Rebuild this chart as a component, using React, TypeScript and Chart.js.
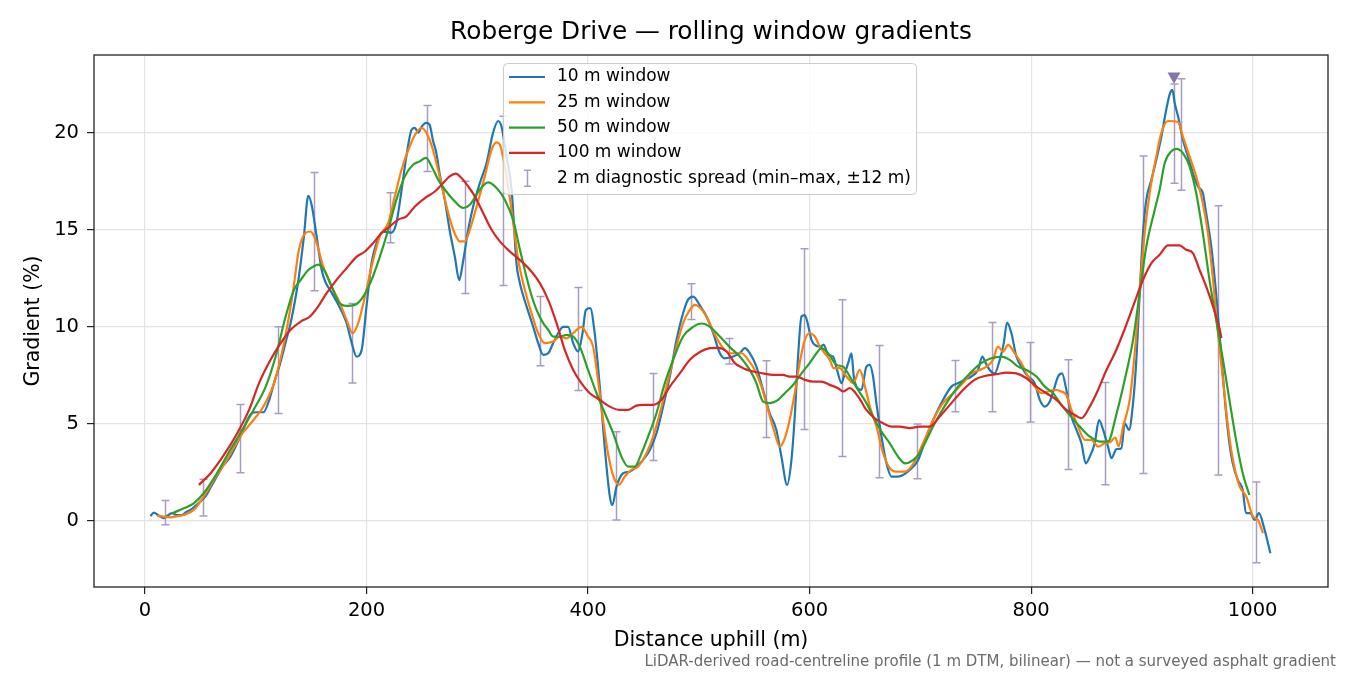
import { useEffect, useRef } from "react";
import { Chart, registerables } from "chart.js";

Chart.register(...registerables);

// distance uphill (m), gradient (%)
const win10: [number, number][] = [
    [5, 0.25], [8, 0.43], [12, 0.3], [17, 0.15], [21, 0.3], [24.6, 0.4], [29, 0.3], [33, 0.3],
    [37, 0.45], [41, 0.57], [46, 0.8], [50, 1.0], [55, 1.3], [60, 1.8], [65, 2.3], [70, 2.8],
    [77, 3.3], [86, 4.35], [95, 5.46], [100, 5.6], [107, 5.6], [112, 6.2], [116.5, 7.1], [122, 8.1],
    [127, 9.2], [131.5, 10.2], [135, 11.2], [139, 12.6], [143.5, 14.66], [147.4, 16.75], [150.4, 16.3],
    [155, 14.66], [159.5, 12.94], [163, 12.3], [167, 11.9], [174, 11.2], [182, 10.2], [186.5, 9.2],
    [191, 8.47], [195.6, 8.8], [200, 11.05], [204.6, 13.3], [209, 14.3], [215, 14.9], [222.6, 14.85],
    [227, 15.36], [231.7, 17.06], [236, 18.78], [240.7, 20.15], [243.7, 20.25], [246.7, 20.0],
    [249.7, 20.3], [254, 20.5], [257, 20.4], [260, 19.6], [263, 18.97], [266, 17.9], [270.8, 16.5],
    [275, 15.0], [279.8, 13.6], [283.7, 12.4], [287, 13.3], [291.8, 15.0], [296.3, 16.2], [302.3, 17.4],
    [308.4, 18.44], [314.3, 20.0], [318.8, 20.6], [321.9, 20.3], [326.4, 18.78], [331, 17.06],
    [335.5, 13.2], [338.4, 12.27], [340, 11.9], [344.5, 11.05], [350.5, 10.0], [355, 9.16], [359.5, 8.56],
    [364, 8.64], [368.5, 9.16], [373, 9.67], [377.5, 10.0], [382, 10.0], [386.6, 9.16], [391, 8.73],
    [395, 9.67], [398, 10.87], [402, 10.96], [406, 9.67], [410.6, 6.92], [415, 3.83], [419.7, 1.25],
    [422, 0.82], [425.7, 1.77], [431.7, 2.46], [437.7, 2.54], [443.7, 2.8], [449.7, 3.14], [455.8, 3.66],
    [461.8, 4.52], [467.8, 5.9], [473.8, 7.44], [479.9, 9.33], [485.8, 10.7], [490.3, 11.4], [494.9, 11.56],
    [501, 11.1], [507, 10.53], [513, 9.67], [519, 8.64], [523.5, 8.38], [531, 8.47], [537, 8.64],
    [541.5, 8.9], [546, 8.64], [552, 7.95], [558, 6.75], [564, 5.55], [570, 4.69], [574.6, 3.31],
    [579.7, 1.86], [583.6, 3.14], [586.6, 5.38], [589.6, 8.47], [592.7, 10.53], [595.7, 10.6], [598.6, 10.1],
    [601.7, 9.33], [604.7, 9.07], [609.2, 8.98], [612.8, 9.07], [616.7, 8.56], [621.2, 8.47], [624.8, 7.78],
    [628.8, 7.1], [631.8, 7.6], [634.8, 8.13], [637.8, 8.64], [639.9, 7.44], [642.3, 6.92], [646.8, 6.75],
    [651.3, 7.95], [654.4, 8.04], [657.3, 7.44], [660.3, 6.07], [664.9, 4.35], [669.4, 2.97], [673.9, 2.28],
    [681.4, 2.3], [690.4, 2.63], [698, 3.14], [705.5, 4.35], [713, 5.38], [720.5, 6.24], [728, 6.92],
    [734, 7.1], [740, 7.27], [746, 7.44], [752, 7.78], [756, 8.47], [759, 8.13], [762.6, 7.78], [767, 7.6],
    [771.7, 8.3], [775.3, 9.16], [778.3, 10.22], [782.2, 9.67], [786.7, 8.47], [791.2, 7.95], [797.2, 7.44],
    [803.2, 7.1], [807.8, 6.24], [812.3, 5.89], [816.8, 6.15], [821.3, 6.92], [824.3, 7.44], [827.9, 7.6],
    [831.8, 6.75], [836.4, 5.38], [840.9, 4.69], [845.4, 4.0], [849.3, 2.97], [852.9, 3.31], [857.4, 4.0],
    [861.3, 5.2], [865, 4.69], [869.4, 3.83], [872.5, 3.23], [877, 3.7], [881.5, 3.75], [884.5, 5.03],
    [888.4, 4.69], [892, 6.07], [895, 8.3], [898, 11.73], [901, 14.83], [904, 16.55], [908.6, 17.58],
    [913, 18.6], [917.6, 19.8], [922, 21.19], [925, 21.96], [927.5, 22.2], [929.6, 21.53], [932.6, 20.84],
    [937, 19.64], [941.6, 18.78], [946, 17.92], [950.6, 17.23], [955, 16.89], [958, 15.86], [962.6, 14.14],
    [967, 11.73], [971.5, 8.64], [976, 5.55], [979, 4.0], [982, 2.97], [986.7, 2.11], [991, 1.6],
    [994, 0.4], [997.9, 0.4], [1001.8, 0.05], [1005.7, 0.4], [1010, -0.29], [1016, -1.66],
];

const win25: [number, number][] = [
    [11, 0.26], [17, 0.22], [23, 0.19], [29, 0.25], [35, 0.31], [44, 0.57], [53, 1.25], [62, 2.1],
    [74, 3.14], [86, 4.35], [98, 5.2], [107, 5.9], [116.5, 7.1], [125.5, 9.16], [133, 11.56], [139, 13.97],
    [145, 14.83], [149.5, 14.91], [152, 14.74], [155, 14.31], [161, 13.1], [168.5, 12.08], [176, 11.22],
    [182, 10.36], [187.5, 9.67], [192.5, 10.19], [198.6, 11.56], [204.6, 13.1], [212, 14.66], [219.6, 15.35],
    [225.6, 16.72], [231.7, 18.1], [239, 19.3], [245, 20.0], [249.7, 20.24], [254, 20.0], [260, 19.12],
    [266, 17.75], [272.3, 16.2], [278.3, 15.0], [284.3, 14.4], [288.8, 14.4], [293.3, 15.0], [299.4, 16.2],
    [306.8, 17.75], [312.9, 19.12], [317.4, 19.5], [320.4, 19.38], [324.9, 18.26], [331, 16.0], [337, 13.45],
    [343, 11.9], [349, 10.7], [355, 9.67], [361, 9.16], [368.5, 9.24], [374.5, 9.5], [380.6, 9.41],
    [386.6, 9.67], [394, 10.0], [400, 9.5], [404.6, 8.98], [409, 7.27], [413.6, 5.2], [418, 3.49],
    [423, 2.28], [428, 1.86], [433, 2.28], [439, 2.63], [445, 2.8], [452.8, 3.49], [458.8, 4.35],
    [464.8, 5.55], [470.8, 6.92], [478.3, 8.64], [485.8, 10.19], [491.9, 10.87], [496.4, 11.13],
    [502.4, 10.9], [508.4, 10.36], [514.4, 9.6], [522, 8.9], [529.5, 8.64], [538.5, 8.64], [544.5, 8.3],
    [550.5, 7.78], [556.6, 6.92], [562.5, 5.72], [568.6, 4.52], [573, 3.83], [577.6, 4.26], [582, 5.2],
    [586.6, 6.58], [591, 8.13], [595.7, 9.33], [600, 9.67], [604.7, 9.5], [609.2, 8.98], [613.7, 8.64],
    [618.2, 8.3], [621.8, 7.87], [627.2, 7.87], [633.3, 7.44], [639.3, 7.1], [645.3, 7.78], [650, 6.92],
    [654.4, 5.89], [660.4, 4.86], [666.4, 3.49], [672.4, 2.72], [678.4, 2.54], [686, 2.54], [693.4, 2.93],
    [702.4, 4.0], [711.5, 5.2], [720.5, 6.07], [729.5, 6.58], [738.5, 7.1], [746, 7.6], [753.6, 7.78],
    [759.7, 7.95], [765.6, 8.3], [770, 8.98], [774.6, 8.73], [779.2, 9.07], [785.2, 8.64], [791.2, 8.13],
    [797.2, 7.44], [803.2, 6.92], [809.3, 6.58], [815.3, 6.67], [821.3, 6.75], [827.3, 6.67], [831.8, 6.49],
    [836.4, 5.72], [842.3, 4.86], [848.4, 4.18], [854.4, 4.18], [860.4, 3.83], [866.4, 4.0], [871, 4.05],
    [876, 4.3], [879, 3.85], [883, 4.86], [889, 6.24], [893.5, 8.64], [898, 11.9], [902.5, 14.83],
    [907, 16.89], [913, 18.78], [917.6, 20.0], [923.6, 20.6], [932.6, 20.55], [937, 19.8], [943, 18.78],
    [949, 17.75], [955, 16.37], [959.6, 14.83], [964.2, 12.42], [968.7, 9.67], [973.2, 7.27], [977.7, 4.86],
    [982.2, 3.14], [988.3, 1.77], [994.3, 1.25], [1000.3, 0.22], [1004.8, 0.05], [1009.3, -0.63],
];

const win50: [number, number][] = [
    [24.6, 0.4], [35, 0.65], [44, 0.91], [53, 1.43], [65, 2.46], [77, 3.66], [86, 4.52], [98, 5.72],
    [109, 6.92], [118, 8.47], [127, 10.53], [134.5, 11.9], [140.5, 12.4], [147, 12.9], [152, 13.1],
    [156.4, 13.2], [162.5, 12.85], [168.5, 12.08], [174.5, 11.3], [182, 11.08], [189.5, 11.13], [197, 11.56],
    [204.6, 12.42], [212, 13.6], [219.6, 15.0], [227, 16.55], [234.6, 17.75], [242, 18.35], [248, 18.52],
    [253.6, 18.7], [258.8, 18.26], [264.7, 17.58], [270.8, 17.06], [278.3, 16.55], [287.3, 16.12],
    [293.3, 16.29], [302.3, 17.06], [309.8, 17.44], [317.4, 17.15], [324.9, 16.55], [332.4, 15.5],
    [338.4, 14.0], [347.5, 11.9], [353.5, 10.87], [359.5, 10.19], [364, 9.85], [368.5, 9.5], [374.5, 9.5],
    [380.6, 9.59], [386.6, 9.5], [392.6, 8.98], [400, 7.78], [407.7, 6.58], [415.2, 5.55], [422.7, 4.52],
    [430.2, 3.31], [436.2, 2.8], [442.2, 2.8], [448.3, 3.49], [454.2, 4.35], [461.8, 5.55], [469.3, 7.1],
    [476.8, 8.3], [485.8, 9.5], [494.9, 10.0], [502.4, 10.17], [510, 10.0], [519, 9.5], [527.5, 8.98],
    [537, 8.47], [546, 7.78], [552, 7.1], [558, 6.15], [564, 6.07], [571.6, 6.24], [577.6, 6.58],
    [585.1, 7.0], [592.7, 7.6], [600, 8.13], [606.2, 8.64], [610.7, 8.9], [616.7, 8.64], [624.3, 8.04],
    [630.2, 7.95], [636.3, 7.44], [643.8, 6.75], [651.3, 6.07], [657.3, 5.38], [664.9, 4.6], [672.4, 4.0],
    [679.9, 3.31], [686, 2.97], [693.4, 3.14], [699.5, 3.5], [704, 4.0], [713, 5.03], [723.6, 6.07],
    [734, 6.92], [744.6, 7.6], [755, 8.13], [764, 8.38], [773.2, 8.47], [780.7, 8.3], [788.2, 7.95],
    [795.8, 7.78], [804.8, 7.44], [812.3, 6.92], [819.8, 6.58], [827.3, 5.98], [834.8, 5.46], [843.9, 4.86],
    [852.9, 4.35], [861.9, 4.09], [869.4, 4.1], [877, 5.5], [884.5, 7.27], [892, 9.33], [898, 11.73],
    [904, 14.14], [911.6, 16.03], [916, 17.06], [920.6, 18.44], [926.6, 19.04], [931, 19.16], [937, 18.95],
    [943, 18.26], [949, 16.89], [955, 14.83], [961, 12.42], [967, 10.36], [973.2, 8.3], [979, 6.24],
    [985, 4.18], [991, 2.46], [997, 1.34],
];

const win100: [number, number][] = [
    [48.7, 1.86], [59.3, 2.46], [71.3, 3.4], [83.3, 4.52], [94, 5.72], [103, 7.1], [113.4, 8.3],
    [122.5, 9.16], [131.5, 9.85], [140.5, 10.27], [149, 10.53], [156.4, 11.05], [164, 11.73], [173, 12.42],
    [182, 13.02], [191, 13.6], [198.6, 13.88], [206, 14.31], [213.6, 14.83], [221, 15.17], [228.6, 15.52],
    [236, 15.69], [243.7, 16.2], [252.7, 16.63], [261.7, 16.97], [269.2, 17.41], [275, 17.75], [280.7, 17.89],
    [285.8, 17.66], [291.8, 17.23], [297.8, 16.72], [305.3, 15.86], [312.9, 15.0], [320.4, 14.4],
    [329.4, 13.88], [338.4, 13.45], [347.5, 12.94], [356.5, 12.25], [364, 11.39], [371.6, 10.19], [379, 8.81],
    [386.6, 7.78], [394, 7.1], [401.6, 6.58], [410.6, 6.24], [419.7, 5.89], [428.7, 5.72], [436.2, 5.72],
    [443.7, 5.94], [451.3, 5.98], [458.8, 5.98], [466.3, 6.24], [473.8, 6.92], [482.8, 7.6], [491.9, 8.3],
    [501, 8.7], [510, 8.9], [517.4, 8.92], [525, 8.73], [532.5, 8.13], [540, 7.87], [549, 7.7], [558, 7.6],
    [567, 7.53], [576, 7.53], [582, 7.44], [588, 7.44], [595.7, 7.27], [603, 7.18], [610.7, 7.18],
    [618.2, 7.01], [625.7, 6.84], [630.2, 6.67], [636.3, 6.84], [643.8, 6.41], [651.3, 5.72], [658.8, 5.29],
    [666.4, 5.03], [673.9, 4.86], [681.4, 4.86], [690.4, 4.78], [699.5, 4.86], [708.5, 4.86], [717.5, 5.38],
    [728, 6.07], [738.5, 6.75], [749, 7.27], [759.7, 7.49], [768.7, 7.56], [777.7, 7.64], [786.7, 7.6],
    [795.8, 7.35], [804.8, 6.92], [813.8, 6.58], [822.8, 6.24], [831.8, 5.72], [839.4, 5.46], [845.4, 5.29],
    [852.9, 5.89], [860.4, 6.75], [868, 7.78], [875.5, 8.64], [883, 9.67], [892, 11.05], [901, 12.42],
    [908.6, 13.28], [916, 13.71], [923.6, 14.19], [934, 14.19], [940, 13.97], [946, 13.8], [952, 12.94],
    [958, 12.08], [964.2, 11.05], [970.3, 9.85], [971.8, 9.42],
];

// 2 m diagnostic spread, min–max within ±12 m
const spreadAt = [18, 52, 86, 120, 153, 187, 221, 255, 289, 323, 357, 391, 425, 459, 493, 527, 561, 595, 629, 663, 697, 731, 765, 799, 833, 867, 901, 929, 935, 969, 1003];
const spreadLow = [-0.2, 0.26, 2.49, 5.53, 11.86, 7.11, 14.33, 18.0, 11.72, 12.13, 8.0, 6.72, 0.05, 3.11, 10.38, 8.09, 4.3, 4.71, 3.32, 2.23, 2.18, 5.62, 5.62, 5.1, 2.65, 1.86, 2.44, 17.39, 17.03, 2.37, -2.15];
const spreadHigh = [1.05, 2.15, 6.0, 10.0, 17.95, 11.2, 16.9, 21.4, 17.5, 20.84, 11.56, 12.03, 4.59, 7.6, 12.22, 9.4, 8.25, 14.02, 11.39, 9.04, 5.0, 8.26, 10.22, 9.19, 8.3, 7.13, 18.8, 22.5, 22.78, 16.24, 2.01];

const peakMark: [number, number][] = [[929, 22.9]];

const xTicks = [0, 200, 400, 600, 800, 1000];
const yTicks = [0, 5, 10, 15, 20];

const seriesNames = ["10 m window", "25 m window", "50 m window", "100 m window"];
const seriesColors = ["#1f77b4", "#ff7f0e", "#2ca02c", "#d62728"];
const spreadName = "2 m diagnostic spread (min\u2013max, \u00b112 m)";
const spreadColor = "#a99cc4";

const FONT = "'DejaVu Sans', Verdana, sans-serif";

const toPoints = (arr: [number, number][]) => arr.map(([x, y]) => ({ x, y }));

const decorations = {
    id: "decorations",
    beforeDraw(chart: any) {
        const ctx = chart.ctx;
        ctx.save();
        ctx.fillStyle = "#ffffff";
        ctx.fillRect(0, 0, chart.width, chart.height);
        ctx.restore();
    },
    beforeDatasetsDraw(chart: any) {
        const ctx = chart.ctx;
        const xs = chart.scales.x;
        const ys = chart.scales.y;
        ctx.save();
        ctx.strokeStyle = spreadColor;
        ctx.lineWidth = 1.5;
        spreadAt.forEach((d, i) => {
            const px = Math.round(xs.getPixelForValue(d)) + 0.5;
            const top = ys.getPixelForValue(spreadHigh[i]);
            const bot = ys.getPixelForValue(spreadLow[i]);
            ctx.beginPath();
            ctx.moveTo(px, top);
            ctx.lineTo(px, bot);
            ctx.moveTo(px - 4, top);
            ctx.lineTo(px + 4, top);
            ctx.moveTo(px - 4, bot);
            ctx.lineTo(px + 4, bot);
            ctx.stroke();
        });
        ctx.restore();
    },
    afterDatasetsDraw(chart: any) {
        const ctx = chart.ctx;
        const a = chart.chartArea;
        ctx.save();

        // frame
        ctx.strokeStyle = "#222222";
        ctx.lineWidth = 1.3;
        ctx.strokeRect(a.left, a.top, a.right - a.left, a.bottom - a.top);

        // legend
        const lx = 503.5, ly = 63.5, lw = 413, lh = 131;
        ctx.beginPath();
        ctx.roundRect(lx, ly, lw, lh, 4);
        ctx.fillStyle = "rgba(255,255,255,0.8)";
        ctx.fill();
        ctx.strokeStyle = "#cccccc";
        ctx.lineWidth = 1;
        ctx.stroke();

        const rows = [77, 102.3, 127.6, 152.9, 178.2];
        ctx.font = `17px ${FONT}`;
        ctx.textBaseline = "middle";
        ctx.textAlign = "left";
        seriesNames.forEach((name, i) => {
            ctx.strokeStyle = seriesColors[i];
            ctx.lineWidth = 2.2;
            ctx.beginPath();
            ctx.moveTo(509, rows[i]);
            ctx.lineTo(545, rows[i]);
            ctx.stroke();
            ctx.fillStyle = "#000000";
            ctx.fillText(name, 557, rows[i]);
        });
        const ey = rows[4];
        ctx.strokeStyle = spreadColor;
        ctx.lineWidth = 1.5;
        ctx.beginPath();
        ctx.moveTo(527.5, ey - 8);
        ctx.lineTo(527.5, ey + 8);
        ctx.moveTo(524, ey - 8);
        ctx.lineTo(531, ey - 8);
        ctx.moveTo(524, ey + 8);
        ctx.lineTo(531, ey + 8);
        ctx.stroke();
        ctx.fillStyle = "#000000";
        ctx.fillText(spreadName, 557, ey);

        // title
        ctx.font = `24.8px ${FONT}`;
        ctx.textAlign = "center";
        ctx.fillText("Roberge Drive \u2014 rolling window gradients", (a.left + a.right) / 2, 33);

        // footer note
        ctx.font = `15px ${FONT}`;
        ctx.textAlign = "right";
        ctx.fillStyle = "#6b6b6b";
        ctx.fillText(
            "LiDAR-derived road-centreline profile (1 m DTM, bilinear) \u2014 not a surveyed asphalt gradient",
            1336,
            662
        );
        ctx.restore();
    },
};

export default function App() {
    const canvasRef = useRef<HTMLCanvasElement | null>(null);
    const chartRef = useRef<Chart | null>(null);

    useEffect(() => {
        if (!canvasRef.current) return;
        if (chartRef.current) { chartRef.current.destroy(); }

        const lines = [win10, win25, win50, win100].map((arr, i) => ({
            label: seriesNames[i],
            data: toPoints(arr),
            showLine: true,
            borderColor: seriesColors[i],
            backgroundColor: seriesColors[i],
            borderWidth: 2.2,
            pointRadius: 0,
            cubicInterpolationMode: "monotone" as const,
            order: 4 - i,
        }));

        chartRef.current = new Chart(canvasRef.current, {
            type: "scatter",
            data: {
                datasets: [
                    ...lines,
                    {
                        label: "peak",
                        data: toPoints(peakMark),
                        pointStyle: "triangle",
                        rotation: 180,
                        pointRadius: 7.5,
                        backgroundColor: "#8676a8",
                        borderWidth: 0,
                        order: 0,
                    },
                ],
            },
            options: {
                animation: false,
                responsive: true,
                maintainAspectRatio: false,
                layout: { padding: { top: 55, right: 22, bottom: 0, left: 0 } },
                plugins: {
                    legend: { display: false },
                    tooltip: { enabled: false },
                    title: { display: false },
                },
                scales: {
                    x: {
                        type: "linear",
                        position: "bottom",
                        min: -46,
                        max: 1068,
                        afterBuildTicks: (scale: any) => {
                            scale.ticks = xTicks.map((v) => ({ value: v }));
                        },
                        afterFit: (scale: any) => {
                            scale.height = 88;
                        },
                        grid: {
                            color: "#e3e3e3",
                            lineWidth: 1.2,
                            tickColor: "#222222",
                            tickLength: 7,
                        },
                        border: { display: false },
                        ticks: {
                            color: "#000000",
                            font: { family: FONT, size: 19.5 },
                            padding: 5,
                            maxRotation: 0,
                            callback: (v: any) => String(v),
                        },
                        title: {
                            display: true,
                            text: "Distance uphill (m)",
                            color: "#000000",
                            font: { family: FONT, size: 20.5 },
                            padding: { top: 0, bottom: 22 },
                        },
                    },
                    y: {
                        type: "linear",
                        min: -3.4,
                        max: 24.0,
                        afterBuildTicks: (scale: any) => {
                            scale.ticks = yTicks.map((v) => ({ value: v }));
                        },
                        afterFit: (scale: any) => {
                            scale.width = 94;
                        },
                        grid: {
                            color: "#e3e3e3",
                            lineWidth: 1.2,
                            tickColor: "#222222",
                            tickLength: 7,
                        },
                        border: { display: false },
                        ticks: {
                            color: "#000000",
                            font: { family: FONT, size: 19.5 },
                            padding: 8,
                            callback: (v: any) => String(v),
                        },
                        title: {
                            display: true,
                            text: "Gradient (%)",
                            color: "#000000",
                            font: { family: FONT, size: 20.5 },
                            padding: { top: 21, bottom: 0 },
                        },
                    },
                },
            },
            plugins: [decorations],
        });

        return () => {
            if (chartRef.current) {
                chartRef.current.destroy();
                chartRef.current = null;
            }
        };
    }, []);

    return (
        <div style={{ position: "fixed", left: 0, top: 0, width: 1350, height: 675, background: "#fff" }}>
            <canvas ref={canvasRef} />
        </div>
    );
}
